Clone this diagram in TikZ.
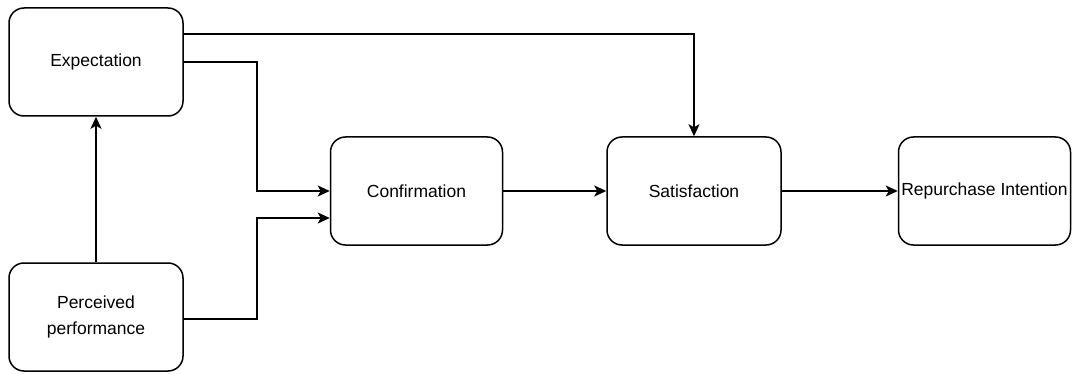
\documentclass[tikz,border=0pt]{standalone}
\usepackage{fontspec}
\setmainfont{Liberation Sans}
\usetikzlibrary{arrows.meta}

\begin{document}
\begin{tikzpicture}[x=1pt,y=1pt,
  every node/.style={font=\fontsize{17.5}{26}\selectfont},
  box/.style={draw,line width=1.5pt,rounded corners=15pt,minimum width=174pt,minimum height=108pt,align=center,inner sep=0pt},
  arr/.style={line width=1.5pt,-{Stealth[length=12pt,width=11pt,inset=3pt]}}]
  \useasboundingbox (0,0) rectangle (1072,373);
  \node[box] (exp) at (96,311) {Expectation};
  \node[box] (perc) at (96,56) {Perceived\\performance};
  \node[box,minimum width=172pt] (conf) at (416.5,182) {Confirmation};
  \node[box] (sat) at (694,182) {Satisfaction};
  \node[box,minimum width=172pt] (rep) at (984.5,182) {Repurchase Intention};
  \coordinate (bus) at (257,182);

  \draw[arr] (perc.north) -- (exp.south);
  \draw[arr] (exp.east) -| (bus) -- (conf.west);
  \draw[arr] ([yshift=-2]perc.east) -| ([yshift=-27]bus) -- ([yshift=-27]conf.west);
  \draw[arr] ([yshift=28]exp.east) -| (sat.north);
  \draw[arr] (conf) -- (sat);
  \draw[arr] (sat) -- (rep);
\end{tikzpicture}
\end{document}
